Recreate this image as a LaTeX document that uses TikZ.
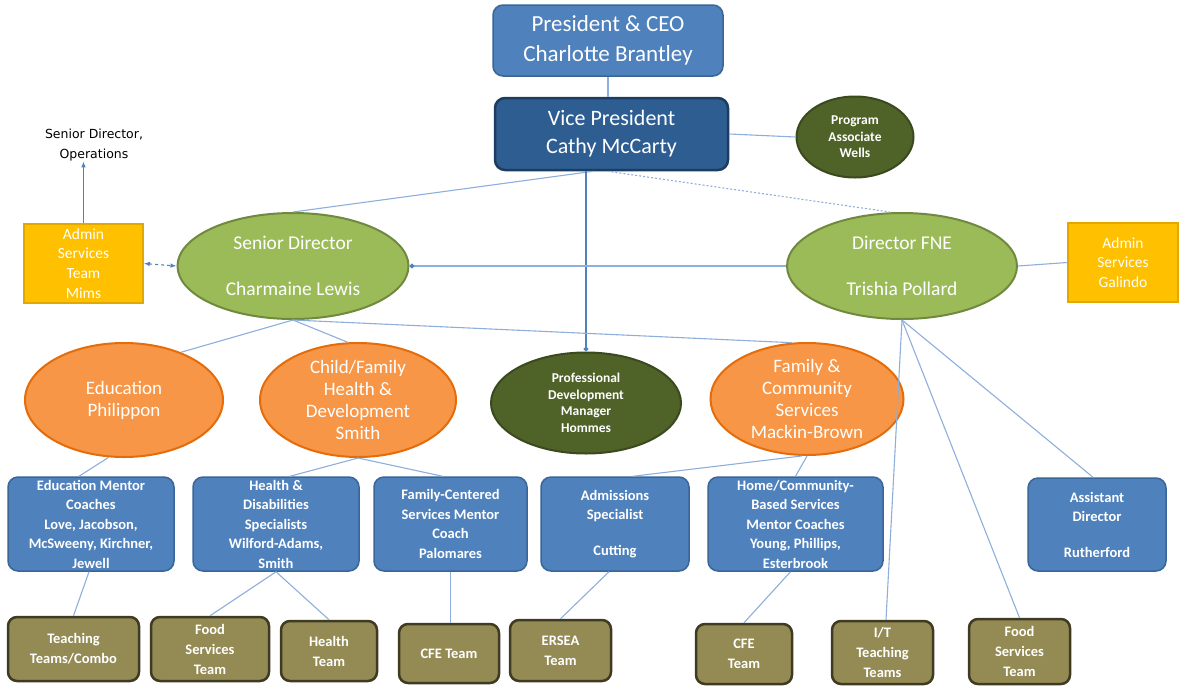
\documentclass[tikz,border=0pt]{standalone}
\usepackage{fontspec}
\setmainfont{Carlito}
\newfontfamily\dvs{DejaVu Sans}
\usetikzlibrary{shapes.geometric,arrows.meta}
\definecolor{bfill}{HTML}{4F81BD}
\definecolor{bline}{HTML}{3A6597}
\definecolor{vpfill}{HTML}{2E5D92}
\definecolor{vpline}{HTML}{1E3C60}
\definecolor{gfill}{HTML}{9BBB59}
\definecolor{gline}{HTML}{71893F}
\definecolor{ofill}{HTML}{F79646}
\definecolor{oline}{HTML}{E46C0A}
\definecolor{dgfill}{HTML}{4F6228}
\definecolor{dgline}{HTML}{3B4A1E}
\definecolor{yfill}{HTML}{FFC000}
\definecolor{yline}{HTML}{E3A800}
\definecolor{olfill}{HTML}{948A54}
\definecolor{olline}{HTML}{3F3A22}
\definecolor{linec}{HTML}{8EAEDB}
\definecolor{arrc}{HTML}{4F81BD}
\begin{document}
\begin{tikzpicture}[x=1pt,y=-1pt,
  box/.style={draw, rounded corners=10pt, line width=1.5pt, inner sep=0pt},
  bbox/.style={box, fill=bfill, draw=bline},
  obox/.style={box, fill=olfill, draw=olline, line width=2.5pt, rounded corners=9pt},
  ybox/.style={draw=yline, fill=yfill, line width=1.5pt, inner sep=0pt},
  ell/.style={ellipse, line width=2pt, inner sep=0pt},
  gell/.style={ell, fill=gfill, draw=gline},
  oell/.style={ell, fill=ofill, draw=oline},
  dgell/.style={ell, fill=dgfill, draw=dgline},
  txt/.style={text=white, align=center, inner sep=0pt},
  bigtxt/.style={txt, font=\fontsize{23}{30}\selectfont},
  elltxt/.style={txt, font=\fontsize{19}{22}\selectfont},
  smtxt/.style={txt, font=\bfseries\fontsize{14.5}{19.5}\selectfont},
  oltxt/.style={txt, font=\bfseries\fontsize{14.5}{20}\selectfont},
  tinytxt/.style={txt, font=\bfseries\fontsize{13.5}{16.5}\selectfont},
  ytxt/.style={txt, font=\fontsize{15.5}{19.7}\selectfont},
  conn/.style={draw=linec, line width=1.1pt},
  arr/.style={draw=arrc, line width=1.1pt}
]
\useasboundingbox (0,0) rectangle (1180,686);

% top
\node[box, fill=bfill, draw=bline, minimum width=230pt, minimum height=71pt] (pres) at (608,40.5) {};
\node[bigtxt] at (pres) {President \& CEO\\Charlotte Brantley};
\node[box, fill=vpfill, draw=vpline, line width=2.5pt, minimum width=233pt, minimum height=72pt] (vp) at (611.5,134) {};
\node[txt, font=\fontsize{22}{28}\selectfont] at (vp) {Vice President\\Cathy McCarty};
\node[dgell, minimum width=117pt, minimum height=81pt] (pa) at (855,137) {};
\node[tinytxt] at (pa) {Program\\Associate\\Wells};

% second level
\node[text=black, align=center, inner sep=0pt, font=\dvs\fontsize{12.5}{20}\selectfont] (sdo) at (94,145) {Senior Director,\\Operations};
\node[ybox, minimum width=119pt, minimum height=79pt] (mims) at (83.5,263.5) {};
\node[ytxt] at (mims) {Admin\\Services\\Team\\Mims};
\node[gell, minimum width=231pt, minimum height=106pt] (sd) at (293,266) {};
\node[txt, font=\fontsize{19.5}{46}\selectfont] at (sd) {Senior Director\\Charmaine Lewis};
\node[gell, minimum width=230pt, minimum height=106pt] (fne) at (902,266) {};
\node[txt, font=\fontsize{19.5}{46}\selectfont] at (fne) {Director FNE\\Trishia Pollard};
\node[ybox, minimum width=110pt, minimum height=79pt] (gal) at (1123,262.5) {};
\node[ytxt] at (gal) {Admin\\Services\\Galindo};

% third level
\node[oell, minimum width=198pt, minimum height=114pt] (edu) at (124,400) {};
\node[elltxt] at (edu) {Education\\Philippon};
\node[oell, minimum width=196pt, minimum height=114pt] (cf) at (358,400) {};
\node[elltxt] at (cf) {Child/Family\\Health \&\\Development\\Smith};
\node[dgell, minimum width=190pt, minimum height=101pt] (pd) at (586,403) {};
\node[tinytxt] at (pd) {Professional\\Development\\Manager\\Hommes};
\node[oell, minimum width=193pt, minimum height=112pt] (fam) at (807,399) {};
\node[elltxt] at (fam) {Family \&\\Community\\Services\\Mackin-Brown};

% blue boxes
\node[bbox, minimum width=166pt, minimum height=94pt] (emc) at (91,524) {};
\node[smtxt] at (emc) {Education Mentor\\Coaches\\Love, Jacobson,\\McSweeny, Kirchner,\\Jewell};
\node[bbox, minimum width=166pt, minimum height=94pt] (hd) at (276,524) {};
\node[smtxt] at (hd) {Health \&\\Disabilities\\Specialists\\Wilford-Adams,\\Smith};
\node[bbox, minimum width=153pt, minimum height=94pt] (fc) at (450.5,524) {};
\node[smtxt] at (fc) {Family-Centered\\Services Mentor\\Coach\\Palomares};
\node[bbox, minimum width=148pt, minimum height=94pt] (adm) at (615,524) {};
\node[smtxt] at (adm) {Admissions\\Specialist\\[16pt]Cutting};
\node[bbox, minimum width=175pt, minimum height=94pt] (home) at (795.5,524) {};
\node[smtxt] at (home) {Home/Community-\\Based Services\\Mentor Coaches\\Young, Phillips,\\Esterbrook};
\node[bbox, minimum width=138pt, minimum height=93pt] (ast) at (1097,524.5) {};
\node[smtxt] at (ast) {Assistant\\Director\\[16pt]Rutherford};

% olive boxes
\node[obox, minimum width=131pt, minimum height=64pt] (tt) at (73.5,649) {};
\node[oltxt] at (tt) {Teaching\\Teams/Combo};
\node[obox, minimum width=118pt, minimum height=64pt] (fs) at (210,649) {};
\node[oltxt] at (fs) {Food\\Services\\Team};
\node[obox, minimum width=96pt, minimum height=60pt] (ht) at (329,651) {};
\node[oltxt] at (ht) {Health\\Team};
\node[obox, minimum width=100pt, minimum height=59pt] (cfe) at (449,653.5) {};
\node[oltxt] at (cfe) {CFE Team};
\node[obox, minimum width=101pt, minimum height=61pt] (ersea) at (560.5,650.5) {};
\node[oltxt] at (ersea) {ERSEA\\Team};
\node[obox, minimum width=96pt, minimum height=60pt] (cfe2) at (744,654) {};
\node[oltxt] at (cfe2) {CFE\\Team};
\node[obox, minimum width=101pt, minimum height=63pt] (it) at (882.5,652.5) {};
\node[oltxt] at (it) {I/T\\Teaching\\Teams};
\node[obox, minimum width=101pt, minimum height=65pt] (fs2) at (1019.5,651.5) {};
\node[oltxt] at (fs2) {Food\\Services\\Team};

% connectors
\draw[conn] (pres.south) -- (pres.south |- vp.north);
\draw[conn] (vp.east) -- (pa.west);
\draw[conn] ([xshift=-18pt]vp.south) -- (sd.north);
\draw[conn, dash pattern=on 2pt off 2pt] ([xshift=-4pt]vp.south) -- ([xshift=-12pt]fne.north);
\draw[arr, -{Circle[length=5pt]}] (pd.north |- vp.south) -- (pd.north);
\draw[conn, -{Circle[length=5pt,color=arrc]}] (fne.west) -- (sd.east);
\draw[arr, dashed, {Latex[length=6pt]}-{Latex[length=6pt]}] (mims.east) -- (sd.west);
\draw[arr, -{Latex[length=6pt]}] (mims.north) -- (mims.north |- sdo.south);
\draw[conn] (fne.east) -- (gal.west);
\draw[conn] (sd.south) -- (edu.40);
\draw[conn] (sd.south) -- (cf.100);
\draw[conn] (sd.south) -- (fam.105);
\draw[conn] (fne.south) -- ([xshift=3.5pt]it.north);
\draw[conn] (fne.south) -- (fs2.north);
\draw[conn] (fne.south) -- ([xshift=-4pt]ast.north);
\draw[conn] (edu.-105) -- ([xshift=-12pt]emc.north);
\draw[conn] (cf.south) -- ([xshift=14pt]hd.north);
\draw[conn] (cf.south) -- ([xshift=-8pt]fc.north);
\draw[conn] (fam.-95) -- ([xshift=18pt]adm.north);
\draw[conn] (fam.south) -- (home.north);
\draw[conn] ([xshift=-2pt]emc.south) -- (tt.north);
\draw[conn] (hd.south) -- (fs.north);
\draw[conn] (hd.south) -- (ht.north);
\draw[conn] (fc.south) -- (fc.south |- cfe.north);
\draw[conn] ([xshift=-6pt]adm.south) -- (ersea.north);
\draw[conn] ([xshift=-5pt]home.south) -- (cfe2.north);
\end{tikzpicture}
\end{document}
